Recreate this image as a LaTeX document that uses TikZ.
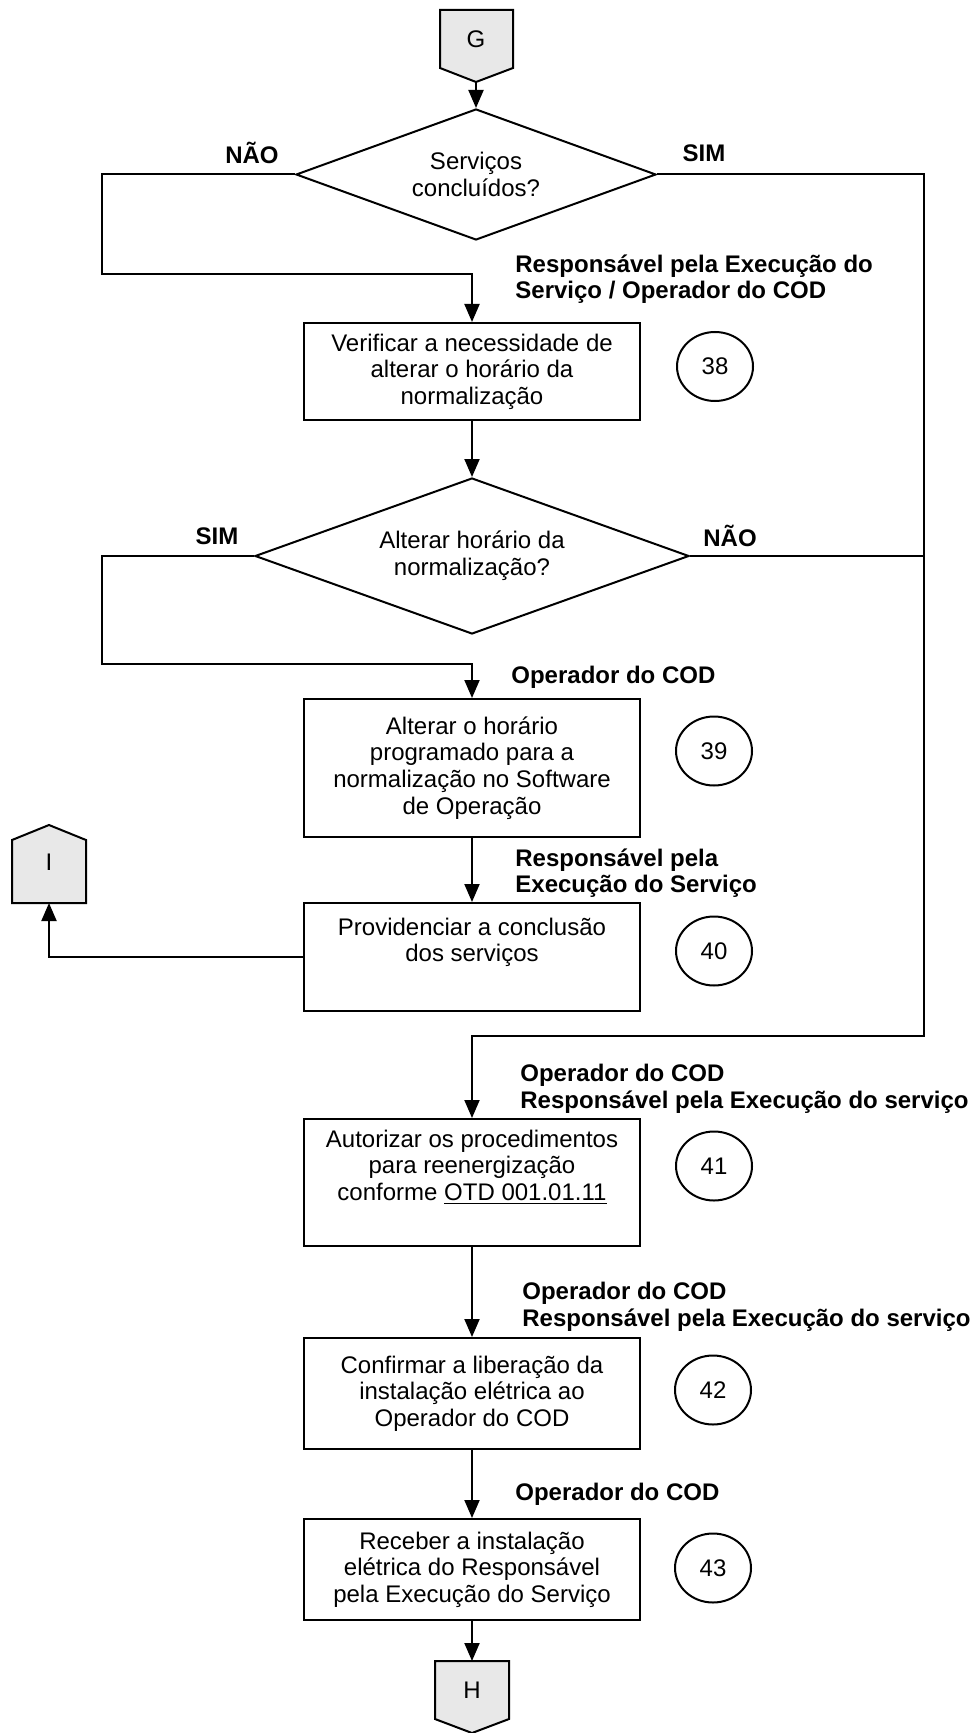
\documentclass[tikz,border=0pt]{standalone}
\usepackage{fontspec}
\setmainfont{Liberation Sans}
\usetikzlibrary{shapes.geometric,arrows.meta}

\begin{document}
\begin{tikzpicture}[x=0.5pt,y=-0.5pt,
    every node/.style={font=\fontsize{12}{13.3}\selectfont, inner sep=0pt},
    box/.style={draw, line width=1pt, minimum width=168pt, align=center},
    decision/.style={draw, diamond, aspect=2.75, line width=1pt, align=center},
    num/.style={draw, ellipse, line width=1pt, minimum width=38pt, minimum height=34.5pt},
    who/.style={anchor=west, align=left, font=\fontsize{12}{13.3}\selectfont\bfseries},
    conn/.style={draw, fill=black!9, line width=1pt},
    arr/.style={line width=1pt, -{Triangle[length=9pt,width=7.5pt]}},
    line/.style={line width=1pt}]
  \useasboundingbox (0,0) rectangle (973,1733);

  % off-page connectors
  \filldraw[conn] (440,10) -- (513,10) -- (513,68) -- (476,82) coordinate (Gtip) -- (440,68) -- cycle;
  \node (G) at (476,39) {G};
  \filldraw[conn] (12,903) -- (86,903) -- (86,840) -- (49,825) -- (12,840) -- cycle;
  \node (I) at (49,862) {I};
  \filldraw[conn] (435,1661) -- (509,1661) -- (509,1719) -- (472,1733) -- (435,1719) -- cycle;
  \node (H) at (472,1690) {H};
  \coordinate (Ibot) at (49,903);
  \coordinate (Htop) at (472,1661);

  % decisions
  \node[decision, minimum width=180pt, minimum height=65.5pt] (d1) at (476,174.5) {Serviços\\concluídos?};
  \node[decision, minimum width=217pt, minimum height=78pt] (d2) at (472,556) {Alterar horário da\\normalização?};

  % activities
  \node[box, minimum height=48.5pt] (b38) at (472,371.5) {Verificar a necessidade de\\alterar o horário da\\normalização};
  \node[box, minimum height=69pt] (b39) at (472,768) {Alterar o horário\\programado para a\\normalização no Software\\de Operação};
  \node[box, minimum height=54pt] (b40) at (472,957) {Providenciar a conclusão\\dos serviços\\\strut};
  \node[box, minimum height=63.5pt] (b41) at (472,1182.5) {Autorizar os procedimentos\\para reenergização\\conforme \underline{OTD 001.01.11}\\\strut};
  \node[box, minimum height=55.5pt] (b42) at (472,1393.5) {Confirmar a liberação da\\instalação elétrica ao\\Operador do COD};
  \node[box, minimum height=50.5pt] (b43) at (472,1569.5) {Receber a instalação\\elétrica do Responsável\\pela Execução do Serviço};

  % step numbers
  \node[num] (n38) at (715,366.5) {38};
  \node[num] (n39) at (714,751) {39};
  \node[num] (n40) at (714,951) {40};
  \node[num] (n41) at (714,1166) {41};
  \node[num] (n42) at (713,1390) {42};
  \node[num] (n43) at (713,1568) {43};

  % responsible
  \node[who] (r38) at (515,279) {Responsável pela Execução do\\Serviço / Operador do COD};
  \node[who] (r39) at (511,677) {Operador do COD};
  \node[who] (r40) at (515,873) {Responsável pela\\Execução do Serviço};
  \node[who] (r41) at (520,1088.5) {Operador do COD\\Responsável pela Execução do serviço};
  \node[who] (r42) at (522,1307) {Operador do COD\\Responsável pela Execução do serviço};
  \node[who] (r43) at (515,1494) {Operador do COD};

  % answers
  \node[font=\fontsize{12}{13.3}\selectfont\bfseries] (a1) at (252,153) {NÃO};
  \node[font=\fontsize{12}{13.3}\selectfont\bfseries] (a2) at (704,153) {SIM};
  \node[font=\fontsize{12}{13.3}\selectfont\bfseries] (a3) at (217,536) {SIM};
  \node[font=\fontsize{12}{13.3}\selectfont\bfseries] (a4) at (730,536) {NÃO};

  % bends
  \coordinate (k1) at (102,274);
  \coordinate (k2) at (924,1036);
  \coordinate (k3) at (102,664);

  \draw[arr] (Gtip) -- (d1.north);
  \draw[arr] (d1.west) -| (k1) -| (b38.north);
  \draw[arr] (d1.east) -| (k2) -| (b41.north);
  \draw[arr] (b38.south) -- (d2.north);
  \draw[line] (d2.east) -- (d2.east -| k2);
  \draw[arr] (d2.west) -| (k3) -| (b39.north);
  \draw[arr] (b39.south) -- (b40.north);
  \draw[arr] (b40.west) -| (Ibot);
  \draw[arr] (b41.south) -- (b42.north);
  \draw[arr] (b42.south) -- (b43.north);
  \draw[arr] (b43.south) -- (Htop);
\end{tikzpicture}
\end{document}
